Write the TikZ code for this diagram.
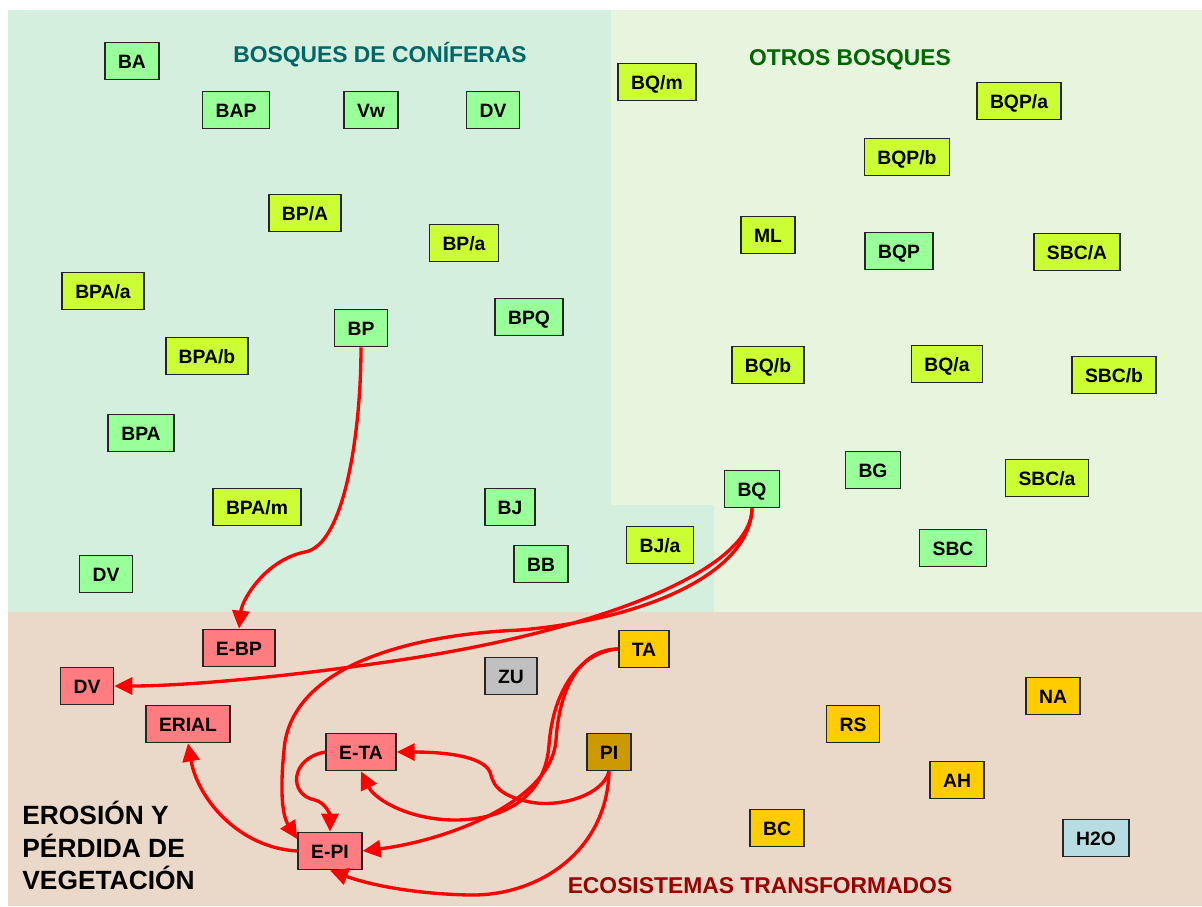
\documentclass[tikz,border=0pt]{standalone}
\usepackage{fontspec}
\setmainfont{Liberation Sans}
\usetikzlibrary{arrows.meta}
\definecolor{conifbg}{HTML}{D5EFDF}
\definecolor{otrosbg}{HTML}{E8F5DE}
\definecolor{transbg}{HTML}{EAD9C8}
\definecolor{boxgreen}{HTML}{99FF99}
\definecolor{boxlime}{HTML}{CCFF33}
\definecolor{boxpink}{HTML}{FF7C80}
\definecolor{boxgold}{HTML}{FFCC00}
\definecolor{boxbrown}{HTML}{CC9900}
\definecolor{boxgrey}{HTML}{C0C0C0}
\definecolor{boxwater}{HTML}{B7DDE3}
\definecolor{titleteal}{HTML}{006666}
\definecolor{titlegreen}{HTML}{006600}
\definecolor{titlered}{HTML}{990000}
\definecolor{flowred}{HTML}{FF0000}

\begin{document}
\begin{tikzpicture}[x=0.02cm, y=-0.02cm,
    unit/.style={draw=black!85, line width=1pt, minimum height=0.74cm,
      inner xsep=0.26cm, inner ysep=0pt, text height=8pt, text depth=0pt,
      font=\fontsize{11}{13}\selectfont\bfseries},
    green/.style={unit, fill=boxgreen},
    lime/.style={unit, fill=boxlime},
    pink/.style={unit, fill=boxpink},
    gold/.style={unit, fill=boxgold},
    title/.style={anchor=base, font=\fontsize{13}{15}\selectfont\bfseries},
    flow/.style={draw=flowred, line width=1.9pt,
      -{Triangle[length=0.36cm, width=0.34cm]}}]
      \useasboundingbox (0,0) rectangle (1202,906);

      % zones
      \fill[conifbg] (8,10) rectangle (611,612);
      \fill[conifbg] (611,505) rectangle (714,612);
      \fill[otrosbg] (611,10) -- (1202,10) -- (1202,612) -- (714,612)
        -- (714,505) -- (611,505) -- cycle;
      \fill[transbg] (8,612) rectangle (1202,906);

      \node[title, text=titleteal] (tconif) at (380,62) {BOSQUES DE CONÍFERAS};
      \node[title, text=titlegreen] (totros) at (850,65) {OTROS BOSQUES};
      \node[title, text=titlered] (ttrans) at (760,893) {ECOSISTEMAS TRANSFORMADOS};
      \node[anchor=north west, align=left, inner sep=0pt,
        font=\fontsize{15}{18.5}\selectfont\bfseries]
        (terosion) at (22,801) {EROSIÓN Y\\PÉRDIDA DE\\VEGETACIÓN};

      % bosques de coniferas
      \node[green] (ba) at (132,61) {BA};
      \node[green] (bap) at (236,110) {BAP};
      \node[green] (vw) at (371,110) {Vw};
      \node[green] (dvc) at (493,110) {DV};
      \node[lime] (bpA) at (305,213) {BP/A};
      \node[lime] (bpa) at (464,243) {BP/a};
      \node[lime] (bpaa) at (103,291) {BPA/a};
      \node[green] (bp) at (361,328) {BP};
      \node[green] (bpq) at (529,317) {BPQ};
      \node[lime] (bpab) at (207,356) {BPA/b};
      \node[green] (bpaA) at (141,433) {BPA};
      \node[lime] (bpam) at (257,507) {BPA/m};
      \node[green] (bj) at (510,507) {BJ};
      \node[green] (bb) at (541,564) {BB};
      \node[green] (dvl) at (106,574) {DV};
      \node[lime] (bja) at (660,545) {BJ/a};

      % otros bosques
      \node[lime] (bqm) at (657,82) {BQ/m};
      \node[lime] (bqpa) at (1019,101) {BQP/a};
      \node[lime] (bqpb) at (907,157) {BQP/b};
      \node[lime] (ml) at (768,235) {ML};
      \node[green] (bqp) at (899,251) {BQP};
      \node[lime] (sbcA) at (1077,252) {SBC/A};
      \node[lime] (bqb) at (768,365) {BQ/b};
      \node[lime] (bqa) at (947,364) {BQ/a};
      \node[lime] (sbcb) at (1114,375) {SBC/b};
      \node[green] (bg) at (873,470) {BG};
      \node[lime] (sbca) at (1047,478) {SBC/a};
      \node[green] (bq) at (752,489) {BQ};
      \node[green] (sbc) at (953,548) {SBC};

      % erosion y ecosistemas transformados
      \node[pink] (ebp) at (239,648) {E-BP};
      \node[pink] (dve) at (87,686) {DV};
      \node[pink] (erial) at (188,724) {ERIAL};
      \node[unit, fill=boxgrey] (zu) at (511,676) {ZU};
      \node[gold] (ta) at (644,649) {TA};
      \node[pink] (eta) at (361,752) {E-TA};
      \node[unit, fill=boxbrown] (pi) at (609,752) {PI};
      \node[pink] (epi) at (330,851) {E-PI};
      \node[gold] (na) at (1053,696) {NA};
      \node[gold] (rs) at (853,724) {RS};
      \node[gold] (ah) at (957,780) {AH};
      \node[gold] (bc) at (777,828) {BC};
      \node[unit, fill=boxwater] (hto) at (1096,838) {H2O};

      % flechas
      \draw[flow] (bp.south) .. controls (361,430) and (345,545) .. (305,552)
        .. controls (265,560) and (242,600) .. (ebp.north);
      \draw[flow] (bq.south) .. controls (752,570) and (600,630) .. (400,660)
        .. controls (280,678) and (180,686) .. (dve.east);
      \draw[flow] (bq.south) .. controls (750,575) and (640,620) .. (520,630)
        .. controls (400,635) and (290,670) .. (284,750)
        .. controls (280,790) and (282,815) .. (epi.160);
      \draw[flow] (ta.west) .. controls (585,649) and (560,680) .. (556,740)
        .. controls (552,800) and (450,840) .. (epi.east);
      \draw[flow] (ta.west) .. controls (580,652) and (553,690) .. (549,745)
        .. controls (545,800) and (500,820) .. (455,820)
        .. controls (410,820) and (375,800) .. (eta.south);
      \draw[flow] (pi.south) .. controls (603,795) and (560,808) .. (530,802)
        .. controls (495,795) and (493,782) .. (490,772)
        .. controls (482,755) and (440,752) .. (eta.east);
      \draw[flow] (pi.south) .. controls (607,850) and (540,896) .. (470,895)
        .. controls (415,894) and (370,885) .. (epi.south);
      \draw[flow] (eta.west) .. controls (290,758) and (288,795) .. (315,800)
        .. controls (326,803) and (330,815) .. (epi.north);
      \draw[flow] (epi.west) .. controls (240,848) and (198,800) .. (erial.south);
    \end{tikzpicture}
\end{document}
